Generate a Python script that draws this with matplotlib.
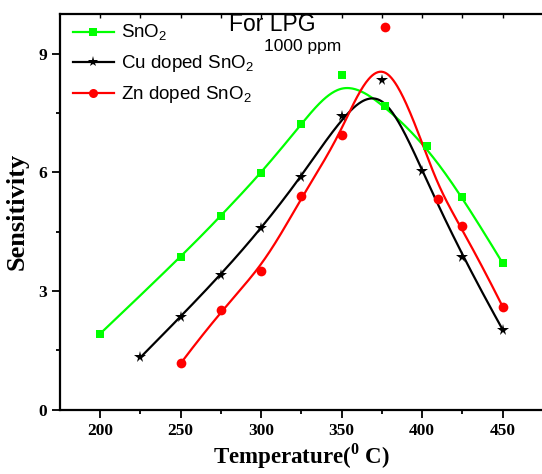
import numpy as np
import matplotlib
matplotlib.use("Agg")
import matplotlib.pyplot as plt

# ---- DATA ----
temp_sno2 = [200, 250, 275, 300, 325, 350, 377, 403, 425, 450]
sens_sno2 = [1.92, 3.85, 4.90, 5.98, 7.22, 8.45, 7.67, 6.66, 5.38, 3.70]

temp_cu = [225, 250, 275, 300, 325, 350, 375, 400, 425, 450]
sens_cu = [1.32, 2.35, 3.41, 4.58, 5.89, 7.41, 8.32, 6.03, 3.85, 2.02]

temp_zn = [250, 275, 300, 325, 350, 377, 410, 425, 450]
sens_zn = [1.17, 2.52, 3.50, 5.39, 6.95, 9.67, 5.32, 4.63, 2.60]

x_ticks = [200, 250, 300, 350, 400, 450]
y_ticks = [0, 3, 6, 9]

plt.rcParams['mathtext.fontset'] = 'custom'
plt.rcParams['mathtext.rm'] = 'Liberation Sans'
plt.rcParams['mathtext.bf'] = 'Liberation Serif:bold'


# clamped cubic B-spline that uses the data points as control points
def bspline(xs, ys, num=300):
    pts = np.column_stack([xs, ys]).astype(float)
    n = len(pts)
    k = 3
    knots = np.concatenate([np.zeros(k), np.arange(n - k + 1), np.full(k, n - k)])
    out = []
    for t in np.linspace(0, n - k, num):
        s = min(int(np.floor(t)) + k, n - 1)
        d = [pts[j + s - k].copy() for j in range(k + 1)]
        for r in range(1, k + 1):
            for j in range(k, r - 1, -1):
                i = j + s - k
                den = knots[j + 1 + s - r] - knots[i]
                a = (t - knots[i]) / den if den else 0.0
                d[j] = (1 - a) * d[j - 1] + a * d[j]
        out.append(d[k])
    out = np.array(out)
    return out[:, 0], out[:, 1]


fig = plt.figure(figsize=(5.42, 4.74), dpi=100)
ax = fig.add_axes([0.1107, 0.1359, 0.891, 0.8346])

series = [
    (temp_sno2, sens_sno2, '#00ff00', 's', 6, "SnO$_2$"),
    (temp_cu, sens_cu, 'black', '*', 8.5, "Cu doped SnO$_2$"),
    (temp_zn, sens_zn, '#ff0000', 'o', 7, "Zn doped SnO$_2$"),
]

for xs, ys, col, mk, ms, lab in series:
    cx, cy = bspline(xs, ys)
    ax.plot(cx, cy, color=col, lw=1.6, zorder=2)
    ax.plot(xs, ys, ls='none', marker=mk, ms=ms, color=col, mec=col, mew=0, zorder=3)
    # legend entry: line with marker
    ax.plot([], [], color=col, lw=1.6, marker=mk, ms=ms - 0.5, mew=0, label=lab)

ax.set_xlim(175, 475)
ax.set_ylim(0, 10)

ax.set_xticks(x_ticks)
ax.set_xticks(np.arange(225, 476, 50), minor=True)
ax.set_yticks(y_ticks)
ax.set_yticks([1.5, 4.5, 7.5], minor=True)

ax.tick_params(which='major', direction='out', length=6, width=1.3)
ax.tick_params(which='minor', direction='out', length=3, width=1.3)
for lbl in ax.get_xticklabels() + ax.get_yticklabels():
    lbl.set_family('Liberation Serif')
    lbl.set_fontweight('bold')
    lbl.set_fontsize(12.5)

# small inward ticks on the top spine
top = ax.secondary_xaxis('top')
top.set_xticks(np.arange(200, 476, 25))
top.tick_params(direction='in', length=3, width=1.0, labeltop=False)
top.spines['top'].set_visible(False)

for side in ['left', 'bottom', 'top']:
    ax.spines[side].set_linewidth(1.6)
ax.spines['right'].set_visible(False)

ax.set_xlabel("Temperature($^\\mathbf{0}$ C)", family='Liberation Serif',
              fontweight='bold', fontsize=16.5, labelpad=2)
ax.set_ylabel("Sensitivity", family='Liberation Serif',
              fontweight='bold', fontsize=19, labelpad=7)

ax.legend(loc='upper left', bbox_to_anchor=(0.026, 0.977), frameon=False,
          prop={'family': 'Liberation Sans', 'size': 13.5},
          handlelength=2.2, handletextpad=0.4, labelspacing=0.53,
          borderpad=0, borderaxespad=0)

ax.text(307, 9.58, "For LPG", family='Liberation Sans', fontsize=16.5,
        ha='center', va='baseline')
ax.text(302, 9.06, "1000 ppm", family='Liberation Sans', fontsize=12.5,
        ha='left', va='baseline')

fig.savefig("out.png", dpi=100)
